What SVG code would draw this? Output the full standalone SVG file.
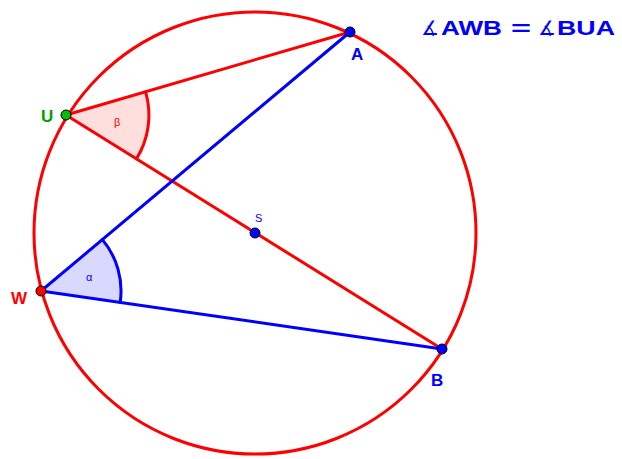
<svg xmlns="http://www.w3.org/2000/svg" width="622" height="459" viewBox="0 0 622 459">
<style>
.red{stroke:#ff0000;stroke-width:3;fill:none;stroke-linecap:round}
.blue{stroke:#0000ff;stroke-width:3;fill:none;stroke-linecap:round}
.pt{stroke:#000;stroke-width:1}
.lbl{font-family:"Liberation Sans",Arial,sans-serif;font-weight:bold;font-size:17px}
.sm{font-family:"Liberation Sans",Arial,sans-serif;font-size:11px}
.ttl{font-family:"Liberation Sans",Arial,sans-serif;font-weight:bold;font-size:21px;fill:#0000ff}
.ang{font-family:"DejaVu Sans",sans-serif;font-size:20px;fill:#0000ff}
</style>
<rect width="622" height="459" fill="#fff"/>
<g id="angles">
<path d="M66,115 L145.6,91.8 A83,83 0 0 1 136.5,158.8 Z" fill="#ff0000" fill-opacity="0.13" stroke="none"/>
<path d="M145.6,91.8 A83,83 0 0 1 136.5,158.8" class="red"/>
<path d="M41,291 L102.4,239.6 A80,80 0 0 1 120.2,302.4 Z" fill="#0000ff" fill-opacity="0.15" stroke="none"/>
<path d="M102.4,239.6 A80,80 0 0 1 120.2,302.4" class="blue"/>
</g>
<g id="connectors">
<circle cx="255" cy="233" r="221" class="red"/>
<line x1="66" y1="115" x2="350" y2="32" class="red"/>
<line x1="66" y1="115" x2="442" y2="349" class="red"/>
<line x1="41" y1="291" x2="350" y2="32" class="blue"/>
<line x1="41" y1="291" x2="442" y2="349" class="blue"/>
</g>
<g id="A"><circle cx="350" cy="32" r="5" fill="#0000ff" class="pt"/><text x="351" y="60" class="lbl" fill="#0000ff">A</text></g>
<g id="B"><circle cx="442" cy="349" r="5" fill="#0000ff" class="pt"/><text x="431" y="386" class="lbl" fill="#0000ff">B</text></g>
<g id="U"><circle cx="66" cy="115" r="5" fill="#00c000" class="pt"/><text x="41" y="122" class="lbl" fill="#00a000">U</text></g>
<g id="W"><circle cx="41" cy="291" r="5" fill="#ff0000" class="pt"/><text x="11" y="304" class="lbl" fill="#ff0000">W</text></g>
<g id="S"><circle cx="255" cy="233" r="5" fill="#0000ff" class="pt"/><text x="255" y="222" class="sm" fill="#0000ff">S</text></g>
<text x="114" y="126" class="sm" fill="#ff0000">β</text>
<text x="86" y="281" class="sm" fill="#0000ff">α</text>
<g id="title">
<text x="421" y="35" class="ang">∡</text>
<text x="441" y="35" class="ttl" textLength="61" lengthAdjust="spacingAndGlyphs">AWB</text>
<text x="511" y="35" class="ttl" textLength="20" lengthAdjust="spacingAndGlyphs">=</text>
<text x="538" y="35" class="ang">∡</text>
<text x="557" y="35" class="ttl" textLength="58" lengthAdjust="spacingAndGlyphs">BUA</text>
</g>
</svg>
